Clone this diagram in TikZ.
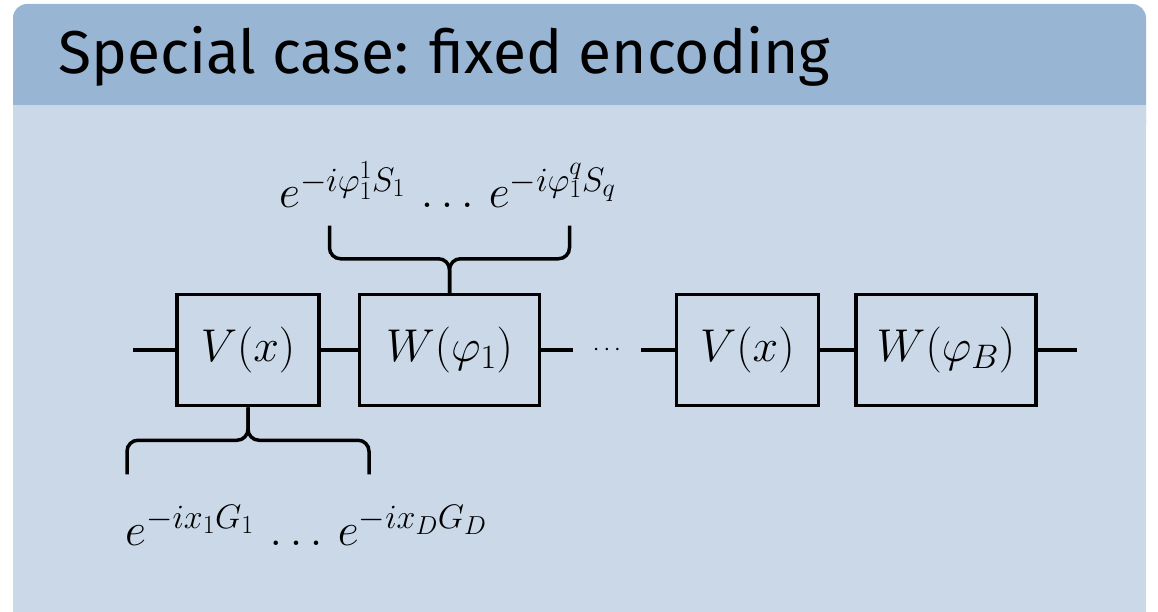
\documentclass[tikz,border=0pt]{standalone}
\usepackage{fix-cm}
\usepackage{fontspec}
\newfontfamily\titlefont{Fira Sans}
\usetikzlibrary{positioning,calc}
\definecolor{headblue}{HTML}{99B5D4}
\definecolor{bodyblue}{HTML}{CAD8E8}
\DeclareMathSizes{46}{46}{34}{26}

\begin{document}
\begin{tikzpicture}[x=1pt, y=-1pt,
  node distance=37pt,
  gate/.style={draw, line width=3.5pt, fill=bodyblue, minimum height=111pt, inner sep=0pt, font=\fontsize{46}{52}\selectfont},
  wire/.style={line width=3.5pt},
  brace/.style={line width=3.5pt, rounded corners=11pt},
  expr/.style={inner sep=0pt, font=\fontsize{46}{52}\selectfont}
]
  % panel
  \useasboundingbox (0,0) rectangle (1158,612);
  \fill[headblue, rounded corners=14pt] (13,4) rectangle (1146,140);
  \fill[bodyblue] (13,105) rectangle (1146,612);
  \node[anchor=base west, inner sep=0pt, font=\titlefont\fontsize{60.5}{68}\selectfont] (title) at (58,74) {Special case: fixed encoding};

  % circuit
  \coordinate (in) at (133,350);
  \node[gate, minimum width=142pt] (v1) at (248,350) {$V(x)$};
  \node[gate, minimum width=180pt, right=of v1] (w1) {$W(\varphi_1)$};
  \node[inner sep=0pt, minimum width=67pt, right=32pt of w1, font=\fontsize{24}{28}\selectfont] (dots) {$\cdots$};
  \node[gate, minimum width=142pt, right=34pt of dots] (v2) {$V(x)$};
  \node[gate, minimum width=180pt, right=34pt of v2] (wB) {$W(\varphi_B)$};
  \coordinate (out) at (1077,350);
  \draw[wire] (in) -- (v1) -- (w1) -- (dots);
  \draw[wire] (dots) -- (v2) -- (wB) -- (out);

  % braces
  \draw[brace] ($(w1.north)+(-120,-67)$) |- ($(w1.north)+(0,-34)$) -- (w1.north);
  \draw[brace] ($(w1.north)+(120,-67)$) |- ($(w1.north)+(0,-34)$) -- (w1.north);
  \draw[brace] ($(v1.south)+(-121,67)$) |- ($(v1.south)+(0,33)$) -- (v1.south);
  \draw[brace] ($(v1.south)+(121,67)$) |- ($(v1.south)+(0,33)$) -- (v1.south);

  % generators
  \node[expr, anchor=base] (phasetxt) at ($(w1.north)+(-2,-85)$) {$e^{-i\varphi_1^1 S_1}\,\ldots\,e^{-i\varphi_1^q S_q}$};
  \node[expr, anchor=base west] (enctxt) at ($(v1.south)+(-123,138)$) {$e^{-ix_1G_1}\,\ldots\,e^{-ix_DG_D}$};
\end{tikzpicture}
\end{document}
